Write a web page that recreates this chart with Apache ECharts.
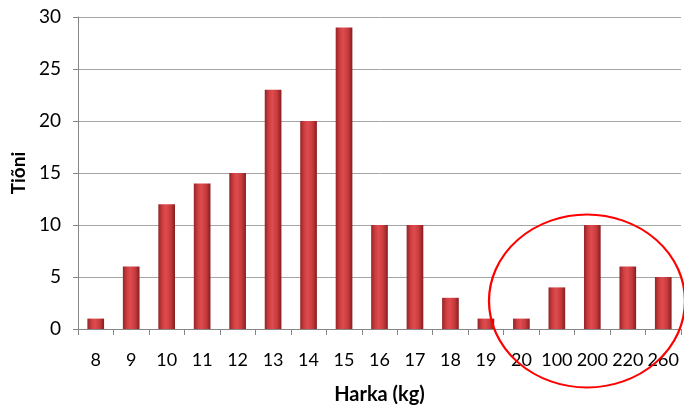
<!DOCTYPE html>
<html><head><meta charset="utf-8">
<script src="https://cdn.jsdelivr.net/npm/echarts@6/dist/echarts.min.js"></script>
<style>html,body{margin:0;padding:0;background:#fff}#c{width:684px;height:410px}</style>
</head><body><div id="c"></div>
<script>
const categories = ['8','9','10','11','12','13','14','15','16','17','18','19','20','100','200','220','260'];
const counts = [1,6,12,14,15,23,20,29,10,10,3,1,1,4,10,6,5];
const yTicks = {min:0, max:30, interval:5};
const FONT = 'Lato';
const chart = echarts.init(document.getElementById('c'));
chart.setOption({
  animation:false,
  grid:{left:78, top:17, right:3, bottom:79, containLabel:false},
  xAxis:{
    type:'category', data:categories,
    name:'Harka (kg)', nameLocation:'middle', nameGap:56,
    nameTextStyle:{fontFamily:FONT, fontWeight:'bold', fontSize:20, color:'#000'},
    axisLine:{lineStyle:{color:'#868686', width:1}},
    axisTick:{show:true, length:6, alignWithLabel:false, lineStyle:{color:'#868686'}},
    axisLabel:{fontFamily:FONT, fontSize:18, color:'#000', margin:22, interval:0}
  },
  yAxis:{
    type:'value', min:yTicks.min, max:yTicks.max, interval:yTicks.interval,
    name:'Tiõni', nameLocation:'middle', nameGap:49, nameRotate:90,
    nameTextStyle:{fontFamily:FONT, fontWeight:'bold', fontSize:19, color:'#000'},
    axisLine:{show:true, lineStyle:{color:'#868686', width:1}},
    axisTick:{show:true, length:5, lineStyle:{color:'#868686'}},
    splitLine:{lineStyle:{color:'#a6a6a6', width:1}},
    axisLabel:{fontFamily:FONT, fontSize:19, color:'#000', margin:17}
  },
  series:[{
    type:'bar', data:counts, barWidth:'47%',
    itemStyle:{color:new echarts.graphic.LinearGradient(0,0,1,0,[
      {offset:0,color:'#942426'},{offset:0.25,color:'#cf3e41'},
      {offset:0.45,color:'#de4c4f'},{offset:0.75,color:'#c6393b'},{offset:1,color:'#841e20'}])}
  }],
  graphic:[{
    type:'circle', shape:{cx:0, cy:0, r:86.5},
    x:587, y:301, scaleX:98/86.5, scaleY:1,
    style:{fill:'none', stroke:'#ff0000', lineWidth:2}, z:100
  }]
});
</script></body></html>
